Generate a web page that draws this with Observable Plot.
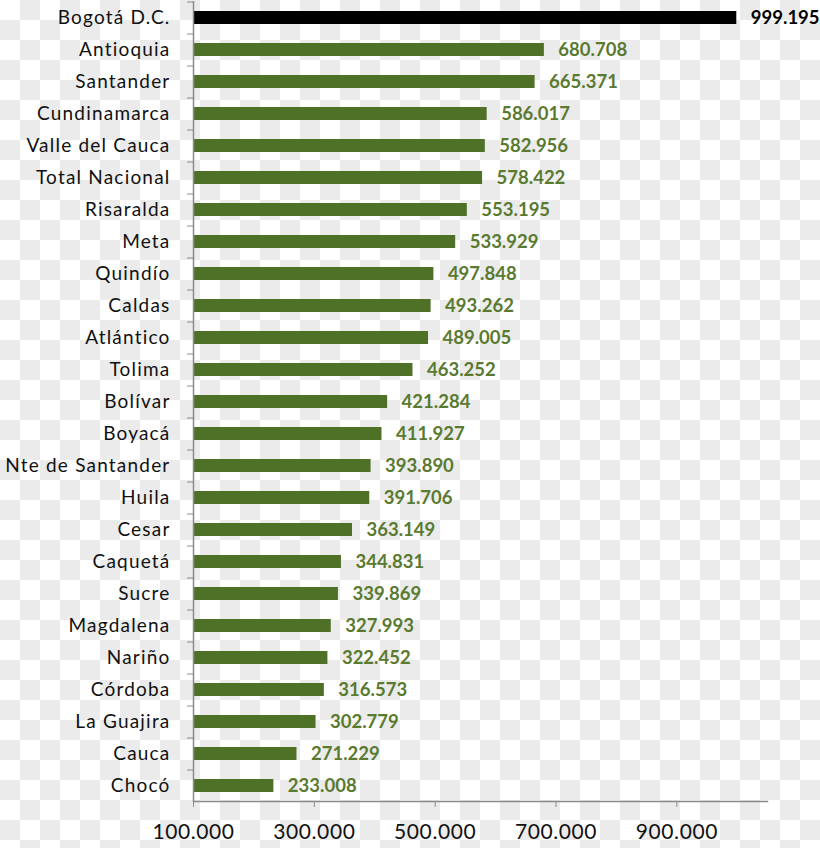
<!DOCTYPE html>
<html>
<head>
<meta charset="utf-8">
<script src="https://cdn.jsdelivr.net/npm/d3@7"></script>
<script src="https://cdn.jsdelivr.net/npm/@observablehq/plot@0.6"></script>
<style>
  html, body { margin: 0; padding: 0; }
  body {
    width: 820px; height: 848px; overflow: hidden;
    background: repeating-conic-gradient(#ebebeb 0 25%, #ffffff 0 50%) 0 0 / 40px 40px;
  }
  #chart svg { display: block; }
  #chart svg g[aria-label="y-axis tick label"] text { letter-spacing: 1.2px; }
  #chart svg g[aria-label="x-axis tick label"] text { letter-spacing: 0.6px; }
</style>
</head>
<body>
<div id="chart"></div>
<script>
const categories = [
  "Bogotá D.C.", "Antioquia", "Santander", "Cundinamarca", "Valle del Cauca",
  "Total Nacional", "Risaralda", "Meta", "Quindío", "Caldas", "Atlántico",
  "Tolima", "Bolívar", "Boyacá", "Nte de Santander", "Huila", "Cesar",
  "Caquetá", "Sucre", "Magdalena", "Nariño", "Córdoba", "La Guajira",
  "Cauca", "Chocó"
];
const values = [
  999195, 680708, 665371, 586017, 582956,
  578422, 553195, 533929, 497848, 493262, 489005,
  463252, 421284, 411927, 393890, 391706, 363149,
  344831, 339869, 327993, 322452, 316573, 302779,
  271229, 233008
];
const xTicks = [100000, 300000, 500000, 700000, 900000];
const highlight = "Bogotá D.C.";

const data = categories.map((name, i) => ({name, value: values[i]}));
const fmt = v => d3.format(",")(v).replace(/,/g, ".");
const baseline = 100000;
const green = "#4e7027";
const labelGreen = "#5a7a30";
const axisGray = "#8a8a8a";
const font = "Lato, 'Open Sans', sans-serif";

const chart = Plot.plot({
  width: 820,
  height: 848,
  marginTop: 1,
  marginBottom: 47,
  marginLeft: 193,
  marginRight: 53,
  style: {background: "transparent", fontFamily: font, fontSize: "19px", color: "#111"},
  x: {domain: [100000, 1050000], ticks: xTicks, tickFormat: fmt},
  y: {domain: categories, paddingInner: 0.6, paddingOuter: 0.3, label: null},
  marks: [
    Plot.barX(data.filter(d => d.name !== highlight), {x1: baseline, x2: "value", y: "name", fill: green}),
    Plot.barX(data.filter(d => d.name === highlight), {x1: baseline, x2: "value", y: "name", fill: "#000"}),
    Plot.text(data.filter(d => d.name !== highlight), {
      x: "value", y: "name", text: d => fmt(d.value), dx: 14, textAnchor: "start",
      fill: labelGreen, fontWeight: "bold", fontSize: 18.5
    }),
    Plot.text(data.filter(d => d.name === highlight), {
      x: "value", y: "name", text: d => fmt(d.value), dx: 14, textAnchor: "start",
      fill: "#000", fontWeight: "bold", fontSize: 18.5
    }),
    Plot.ruleX([baseline], {stroke: axisGray, strokeWidth: 1.5}),
    Plot.axisY({tickSize: 6, dy: -16, tickFormat: () => "", stroke: axisGray, label: null}),
    Plot.axisY({tickSize: 0, tickPadding: 23, label: null, fill: "#111", fontSize: 19}),
    Plot.axisX({ticks: xTicks, tickFormat: fmt, tickSize: 6, tickPadding: 17, stroke: axisGray, label: null, fontSize: 21, fill: "#111"}),
    Plot.frame({anchor: "bottom", stroke: axisGray, strokeWidth: 1.5})
  ]
});
document.getElementById("chart").appendChild(chart);
</script>
</body>
</html>
